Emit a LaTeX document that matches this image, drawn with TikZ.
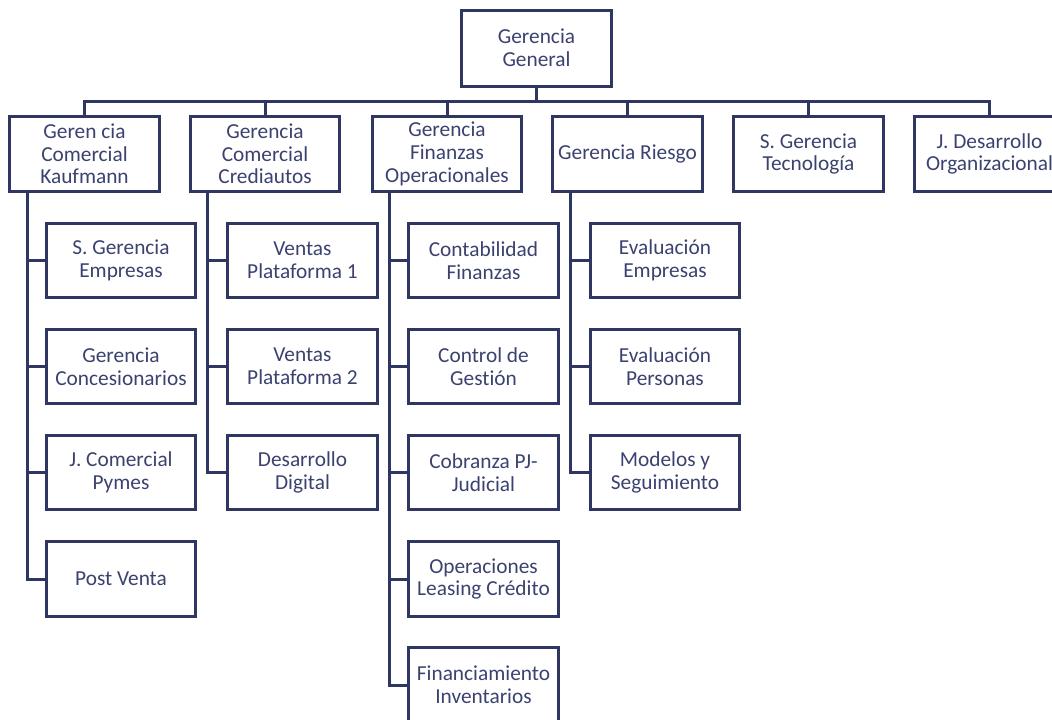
\documentclass[tikz,border=0pt]{standalone}
\usepackage{fontspec}
\setmainfont[Ligatures=NoCommon]{Carlito}
\definecolor{navy}{HTML}{2F3662}
\definecolor{txt}{HTML}{3B4270}
\begin{document}
\begin{tikzpicture}[x=0.75pt,y=-0.75pt,
  box/.style={draw=navy,line width=2.25pt,fill=white,text=txt,align=center,
    minimum width=112pt,minimum height=56pt,inner sep=1pt,
    font=\fontsize{16}{17}\selectfont},
  link/.style={draw=navy,line width=2.25pt}]
\clip (0,0) rectangle (1052,719);
\fill[white] (0,0) rectangle (1052,719);
% top
\node[box,minimum width=113pt,minimum height=57pt] (gg) at (536.5,48) {Gerencia\\General};
% level 1
\node[box] (k1) at (84.5,154) {Geren cia\\Comercial\\Kaufmann};
\node[box] (k2) at (265,154) {Gerencia\\Comercial\\Crediautos};
\node[box] (k3) at (447,154) {Gerencia\\Finanzas\\Operacionales};
\node[box] (k4) at (627.5,154) {Gerencia Riesgo};
\node[box] (k5) at (808.5,154) {S. Gerencia\\Tecnología};
\node[box] (k6) at (989.5,154) {J. Desarrollo\\Organizacional};
% column 1
\node[box] (a1) at (121,260.5) {S. Gerencia\\Empresas};
\node[box] (a2) at (121,366.5) {Gerencia\\Concesionarios};
\node[box] (a3) at (121,472.5) {J. Comercial\\Pymes};
\node[box] (a4) at (121,579) {Post Venta};
% column 2
\node[box] (b1) at (302.5,260.5) {Ventas\\Plataforma 1};
\node[box] (b2) at (302.5,366.5) {Ventas\\Plataforma 2};
\node[box] (b3) at (302.5,472.5) {Desarrollo\\Digital};
% column 3
\node[box] (c1) at (483.5,260.5) {Contabilidad\\Finanzas};
\node[box] (c2) at (483.5,366.5) {Control de\\Gestión};
\node[box] (c3) at (483.5,472.5) {Cobranza PJ-\\Judicial};
\node[box] (c4) at (483.5,579) {Operaciones\\Leasing Crédito};
\node[box] (c5) at (483.5,685) {Financiamiento\\Inventarios};
% column 4
\node[box] (d1) at (665,260.5) {Evaluación\\Empresas};
\node[box] (d2) at (665,366.5) {Evaluación\\Personas};
\node[box] (d3) at (665,472.5) {Modelos y\\Seguimiento};
% connectors
\foreach \k in {k1,k2,k3,k4,k5,k6}
  \draw[link] (gg.south) -- ++(0,14) -| (\k.north);
\foreach \c in {a1,a2,a3,a4}
  \draw[link] ([xshift=14]k1.south west) |- (\c.west);
\foreach \c in {b1,b2,b3}
  \draw[link] ([xshift=14]k2.south west) |- (\c.west);
\foreach \c in {c1,c2,c3,c4,c5}
  \draw[link] ([xshift=14]k3.south west) |- (\c.west);
\foreach \c in {d1,d2,d3}
  \draw[link] ([xshift=14]k4.south west) |- (\c.west);
\end{tikzpicture}
\end{document}
